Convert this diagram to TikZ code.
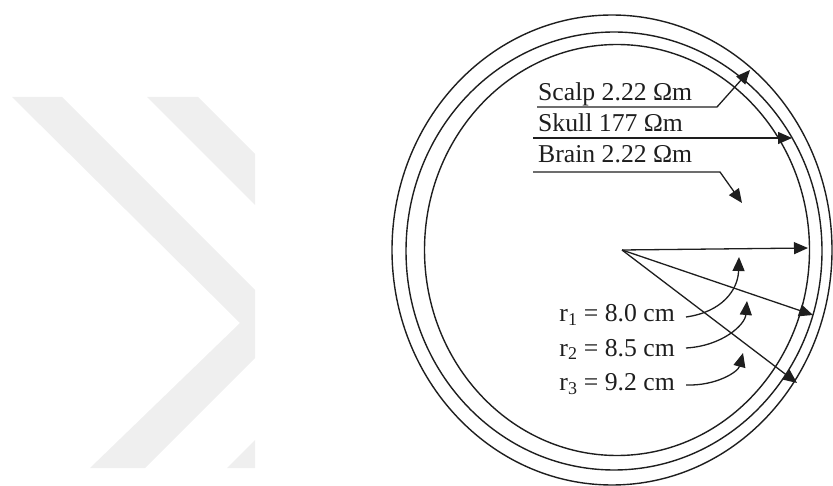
\documentclass[tikz,border=0pt]{standalone}
\usepackage{fontspec}
\setmainfont{Liberation Serif}
\usetikzlibrary{arrows.meta}
\definecolor{wm}{RGB}{239,239,239}
\definecolor{ink}{RGB}{30,30,30}
\begin{document}
\begin{tikzpicture}[x=1pt,y=-1pt,
  font=\fontsize{25.7}{30}\selectfont,
  ring/.style={draw=ink,line width=1.4pt},
  lead/.style={draw=ink,line width=1.3pt,-{Triangle[length=14pt,width=12pt]}},
  lbl/.style={inner sep=0pt,text=ink}]
\useasboundingbox (0,0) rectangle (833,486);
% watermark chevrons
\fill[wm] (12,97) -- (62,97) -- (255,290) -- (255,358) -- (145,468) -- (90,468) -- (240,323) -- cycle;
\fill[wm] (147,97) -- (198,97) -- (255,154) -- (255,205) -- cycle;
\fill[wm] (227,468) -- (255,440) -- (255,468) -- cycle;
% layers
\draw[ring] (617,250) ellipse [x radius=192.5pt, y radius=205.5pt];
\draw[ring] (614,251) ellipse [x radius=208pt, y radius=219pt];
\draw[ring] (612,250) ellipse [x radius=220pt, y radius=235pt];
% tissue labels
\node[lbl,anchor=base west] (scalp) at (538,101) {Scalp 2.22 Ωm};
\node[lbl,anchor=base west] (skull) at (538,132) {Skull 177 Ωm};
\node[lbl,anchor=base west] (brain) at (538,163) {Brain 2.22 Ωm};
\coordinate (scalpL) at (537,107);
\coordinate (scalpK) at (717,107);
\coordinate (scalpT) at (750,70);
\coordinate (skullL) at (533,138);
\coordinate (skullT) at (792,138);
\coordinate (brainL) at (533,172);
\coordinate (brainK) at (720,172);
\coordinate (brainT) at (742,203);
\draw[lead] (scalpL) -- (scalpK) -- (scalpT);
\draw[lead] (skullL) -- (skullT);
\draw[lead] (brainL) -- (brainK) -- (brainT);
% radii
\coordinate (O) at (622,250);
\coordinate (R1) at (808,248);
\coordinate (R2) at (813,315);
\coordinate (R3) at (797,383);
\draw[lead] (O) -- (R1);
\draw[lead] (O) -- (R2);
\draw[lead] (O) -- (R3);
% radius labels
\node[lbl,anchor=base east] (r1) at (675,322) {r\textsubscript{1} = 8.0 cm};
\node[lbl,anchor=base east] (r2) at (675,356) {r\textsubscript{2} = 8.5 cm};
\node[lbl,anchor=base east] (r3) at (675,391) {r\textsubscript{3} = 9.2 cm};
\coordinate (c1s) at (686,317);
\coordinate (c1t) at (739,257);
\coordinate (c2s) at (686,348);
\coordinate (c2t) at (747,301);
\coordinate (c3s) at (686,385);
\coordinate (c3t) at (743,353);
\draw[lead] (c1s) .. controls (722,312) and (738,290) .. (c1t);
\draw[lead] (c2s) .. controls (722,346) and (745,325) .. (c2t);
\draw[lead] (c3s) .. controls (716,386) and (738,372) .. (c3t);
\end{tikzpicture}
\end{document}
